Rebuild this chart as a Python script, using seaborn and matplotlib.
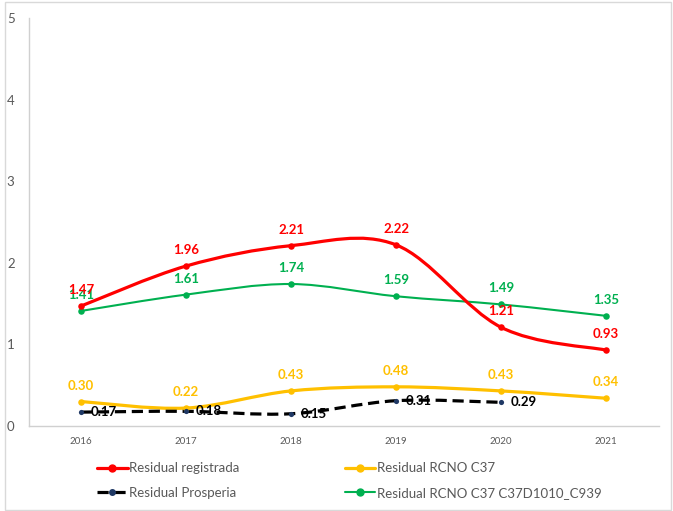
import numpy as np
import pandas as pd
import matplotlib
matplotlib.use("Agg")
import matplotlib.pyplot as plt
from matplotlib.path import Path
from matplotlib.patches import PathPatch, Rectangle
from matplotlib.lines import Line2D
import seaborn as sns

# data
years = ["2016", "2017", "2018", "2019", "2020", "2021"]
registrada = [1.47, 1.96, 2.21, 2.22, 1.21, 0.93]
rcno_c37 = [0.30, 0.22, 0.43, 0.48, 0.43, 0.34]
prosperia = [0.17, 0.18, 0.15, 0.31, 0.29]
rcno_c939 = [1.41, 1.61, 1.74, 1.59, 1.49, 1.35]

sns.set_theme(style="white")
plt.rcParams["font.family"] = ["Lato", "DejaVu Sans"]

TXT = "#595959"
AXIS = "#D0D0D0"


def smooth_path(xs, ys):
    # Excel-like smoothed line: cubic Bezier through the points
    pts = np.column_stack([xs, ys]).astype(float)
    n = len(pts)
    verts = [pts[0]]
    codes = [Path.MOVETO]
    for i in range(n - 1):
        p0 = pts[i - 1] if i > 0 else pts[i]
        p1 = pts[i]
        p2 = pts[i + 1]
        p3 = pts[i + 2] if i + 2 < n else pts[i + 1]
        c1 = p1 + (p2 - p0) / 6.0
        c2 = p2 - (p3 - p1) / 6.0
        verts += [c1, c2, p2]
        codes += [Path.CURVE4] * 3
    return Path(verts, codes)


fig = plt.figure(figsize=(6.73, 5.11), dpi=100)
ax = fig.add_axes([28.5 / 673, 1 - 426 / 511, 630 / 673, 408 / 511])

styles = {
    "Residual registrada": dict(color="#FF0000", lw=2.3, ls="-", mc="#FF0000", ms=22, lab="above"),
    "Residual RCNO C37": dict(color="#FFC000", lw=2.3, ls="-", mc="#FFC000", ms=22, lab="above"),
    "Residual Prosperia": dict(color="#000000", lw=2.3, ls=(0, (3.5, 1.8)), mc="#1F3864", ms=14, lab="right"),
    "Residual RCNO C37 C37D1010_C939": dict(color="#00B050", lw=1.5, ls="-", mc="#00B050", ms=22, lab="above"),
}
values = {
    "Residual registrada": registrada,
    "Residual RCNO C37": rcno_c37,
    "Residual Prosperia": prosperia,
    "Residual RCNO C37 C37D1010_C939": rcno_c939,
}
order = ["Residual RCNO C37", "Residual Prosperia",
         "Residual RCNO C37 C37D1010_C939", "Residual registrada"]

for name in order:
    vals = values[name]
    st = styles[name]
    xs = np.arange(len(vals))
    df = pd.DataFrame({"x": xs, "y": vals})
    patch = PathPatch(smooth_path(xs, vals), facecolor="none", edgecolor=st["color"],
                      lw=st["lw"], linestyle=st["ls"], capstyle="butt", zorder=2)
    ax.add_patch(patch)
    sns.scatterplot(data=df, x="x", y="y", ax=ax, color=st["mc"], s=st["ms"],
                    edgecolor=st["mc"], linewidth=0, zorder=3, legend=False)
    for x, v in zip(xs, vals):
        if st["lab"] == "above":
            ax.annotate(f"{v:.2f}", (x, v), xytext=(0, 11.5), textcoords="offset points",
                        ha="center", va="center", fontsize=9.5, fontweight="bold",
                        color=st["color"], zorder=4)
        else:
            ax.annotate(f"{v:.2f}", (x, v), xytext=(7, 0), textcoords="offset points",
                        ha="left", va="center", fontsize=9.5, fontweight="bold",
                        color="#000000", zorder=4)

ax.set_xlim(-0.5, 5.5)
ax.set_ylim(0, 5)
ax.set_xticks(range(len(years)))
ax.set_xticklabels(years)
ax.set_yticks(range(0, 6))
ax.set_xlabel("")
ax.set_ylabel("")
ax.tick_params(axis="x", labelsize=7, colors=TXT, length=0, pad=8)
ax.tick_params(axis="y", labelsize=9.5, colors=TXT, length=0, pad=10)
for side in ["top", "right"]:
    ax.spines[side].set_visible(False)
for side in ["left", "bottom"]:
    ax.spines[side].set_color(AXIS)
    ax.spines[side].set_linewidth(1)

handles = []
labels = ["Residual registrada", "Residual Prosperia",
          "Residual RCNO C37", "Residual RCNO C37 C37D1010_C939"]
for name in labels:
    st = styles[name]
    handles.append(Line2D([0], [0], color=st["color"], lw=st["lw"], ls=st["ls"],
                          marker="o", markersize=5 if st["ms"] > 20 else 4,
                          markerfacecolor=st["mc"], markeredgecolor=st["mc"]))
leg = fig.legend(handles, labels, ncol=2, loc="upper left",
                 bbox_to_anchor=(92 / 673, 1 - 457 / 511), frameon=False,
                 fontsize=9.5, handlelength=2.3, handletextpad=0.1,
                 columnspacing=8.0, labelspacing=0.95, borderaxespad=0)
for t in leg.get_texts():
    t.set_color(TXT)

fig.patches.append(Rectangle((5 / 673, 1 / 511), 666 / 673, 508 / 511,
                             transform=fig.transFigure, facecolor="none",
                             edgecolor="#D9D9D9", lw=1))

fig.savefig("out.png", dpi=100)
